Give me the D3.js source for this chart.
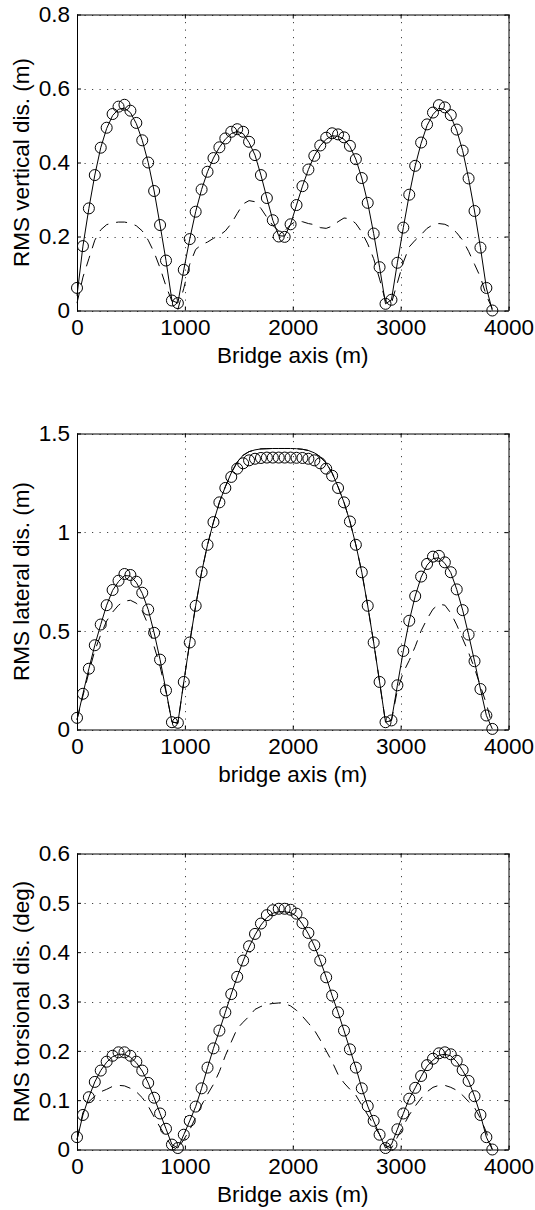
<!DOCTYPE html>
<html>
<head>
<meta charset="utf-8">
<script src="https://cdn.jsdelivr.net/npm/d3@7"></script>
<style>
body{margin:0;background:#fff;}
svg{display:block;font-family:Helvetica,Arial,"Liberation Sans",sans-serif;}
</style>
</head>
<body>
<svg id="chart" width="535" height="1210"></svg>
<script>
// stations along the bridge axis (m)
const stations=[0,55,110,165,220,275,330,385,440,495,550,605,660,715,770,825,880,935,990,1045,1100,1155,1210,1265,1320,1375,1430,1485,1540,1595,1650,1705,1760,1815,1870,1925,1980,2035,2090,2145,2200,2255,2310,2365,2420,2475,2530,2585,2640,2695,2750,2805,2860,2915,2970,3025,3080,3135,3190,3245,3300,3355,3410,3465,3520,3575,3630,3685,3740,3795,3850];
const xTicks=[0,1000,2000,3000,4000];

// vertical
const vertTicks=[0,0.2,0.4,0.6,0.8];
const vertCircle=[0.061,0.174,0.276,0.366,0.44,0.494,0.531,0.551,0.556,0.54,
  0.507,0.46,0.40,0.323,0.231,0.135,0.027,0.02,0.11,0.193,
  0.267,0.327,0.375,0.412,0.441,0.465,0.483,0.49,0.483,0.456,
  0.42,0.366,0.304,0.244,0.2,0.199,0.233,0.285,0.336,0.381,
  0.418,0.446,0.467,0.479,0.476,0.468,0.445,0.409,0.358,0.291,
  0.208,0.117,0.018,0.029,0.129,0.224,0.313,0.391,0.454,0.503,
  0.535,0.555,0.549,0.528,0.489,0.432,0.357,0.269,0.17,0.061,0.0];
const vertSolid=[0.04,0.174,0.276,0.366,0.44,0.492,0.527,0.544,0.547,0.535,
  0.505,0.46,0.40,0.323,0.231,0.135,0.027,0.02,0.11,0.193,
  0.267,0.327,0.375,0.412,0.441,0.463,0.478,0.484,0.478,0.454,
  0.42,0.366,0.304,0.244,0.202,0.201,0.233,0.285,0.336,0.381,
  0.418,0.445,0.463,0.472,0.471,0.463,0.443,0.409,0.358,0.291,
  0.208,0.117,0.018,0.029,0.129,0.224,0.313,0.391,0.452,0.5,
  0.53,0.547,0.543,0.524,0.487,0.432,0.357,0.269,0.17,0.061,0.0];
const vertDash=[0.02,0.09,0.14,0.19,0.218,0.232,0.237,0.239,0.239,0.236,
  0.229,0.215,0.19,0.157,0.115,0.066,0.025,0.003,0.06,0.125,
  0.165,0.178,0.185,0.195,0.203,0.215,0.235,0.262,0.288,0.297,
  0.294,0.276,0.252,0.23,0.215,0.215,0.232,0.242,0.24,0.235,
  0.232,0.224,0.222,0.228,0.24,0.25,0.248,0.235,0.212,0.18,
  0.14,0.085,0.025,0.02,0.075,0.13,0.172,0.19,0.205,0.222,
  0.232,0.235,0.233,0.225,0.21,0.19,0.16,0.125,0.09,0.04,0.005];

// lateral
const latTicks=[0,0.5,1,1.5];
const latCircle=[0.059,0.181,0.308,0.427,0.532,0.63,0.707,0.754,0.788,0.783,
  0.749,0.693,0.608,0.49,0.354,0.198,0.037,0.034,0.241,0.441,
  0.627,0.797,0.936,1.051,1.151,1.224,1.28,1.322,1.349,1.364,
  1.372,1.376,1.378,1.378,1.378,1.378,1.378,1.377,1.376,1.372,
  1.364,1.349,1.322,1.286,1.224,1.151,1.054,0.936,0.797,0.627,
  0.441,0.241,0.037,0.046,0.224,0.398,0.551,0.676,0.775,0.839,
  0.876,0.88,0.847,0.797,0.71,0.605,0.481,0.346,0.205,0.071,0.003];
const latSolid=[0.05,0.181,0.308,0.427,0.532,0.63,0.705,0.75,0.78,0.778,
  0.745,0.69,0.608,0.49,0.354,0.198,0.037,0.034,0.241,0.441,
  0.627,0.797,0.936,1.051,1.151,1.23,1.30,1.355,1.39,1.408,
  1.417,1.422,1.423,1.424,1.424,1.424,1.424,1.423,1.42,1.414,
  1.402,1.382,1.35,1.30,1.23,1.151,1.054,0.936,0.797,0.627,
  0.441,0.241,0.037,0.046,0.224,0.398,0.551,0.676,0.772,0.833,
  0.866,0.87,0.842,0.795,0.71,0.605,0.481,0.346,0.205,0.071,0.003];
const latDash=[0.05,0.17,0.29,0.40,0.48,0.55,0.595,0.63,0.65,0.655,
  0.64,0.6,0.53,0.42,0.32,0.19,0.04,0.03,0.241,0.441,
  0.627,0.797,0.936,1.051,1.151,1.23,1.30,1.355,1.39,1.408,
  1.417,1.422,1.423,1.424,1.424,1.424,1.424,1.423,1.42,1.414,
  1.402,1.382,1.35,1.30,1.23,1.151,1.054,0.936,0.797,0.627,
  0.441,0.241,0.037,0.046,0.2,0.29,0.35,0.42,0.50,0.56,
  0.61,0.635,0.63,0.59,0.53,0.46,0.39,0.31,0.22,0.13,0.02];

// torsional
const torsTicks=[0,0.1,0.2,0.3,0.4,0.5,0.6];
const torsCircle=[0.025,0.07,0.106,0.137,0.16,0.178,0.19,0.197,0.197,0.19,
  0.178,0.16,0.135,0.105,0.073,0.042,0.01,0.003,0.03,0.058,
  0.087,0.124,0.166,0.205,0.241,0.278,0.315,0.35,0.383,0.412,
  0.437,0.458,0.475,0.485,0.488,0.488,0.486,0.478,0.459,0.439,
  0.414,0.383,0.349,0.312,0.278,0.241,0.203,0.166,0.124,0.088,
  0.058,0.03,0.003,0.01,0.041,0.073,0.103,0.125,0.149,0.171,
  0.184,0.195,0.197,0.193,0.18,0.161,0.139,0.108,0.07,0.025,0.0];
const torsSolid=[0.02,0.07,0.106,0.137,0.16,0.177,0.188,0.193,0.193,0.187,
  0.176,0.159,0.135,0.105,0.073,0.042,0.01,0.003,0.03,0.058,
  0.087,0.124,0.166,0.205,0.241,0.278,0.315,0.35,0.382,0.41,
  0.435,0.455,0.47,0.479,0.482,0.482,0.48,0.473,0.457,0.437,
  0.413,0.383,0.349,0.312,0.278,0.241,0.203,0.166,0.124,0.088,
  0.058,0.03,0.003,0.01,0.041,0.073,0.103,0.125,0.148,0.169,
  0.181,0.191,0.193,0.19,0.178,0.16,0.139,0.108,0.07,0.025,0.0];
const torsDash=[0.02,0.075,0.097,0.108,0.117,0.122,0.128,0.13,0.129,0.124,
  0.117,0.105,0.088,0.066,0.045,0.025,0.005,0.002,0.02,0.04,
  0.065,0.09,0.112,0.132,0.158,0.19,0.218,0.245,0.258,0.27,
  0.284,0.29,0.294,0.296,0.297,0.296,0.291,0.282,0.27,0.256,
  0.242,0.222,0.2,0.178,0.152,0.135,0.122,0.11,0.09,0.07,
  0.05,0.03,0.008,0.003,0.025,0.048,0.07,0.088,0.104,0.117,
  0.126,0.13,0.13,0.126,0.12,0.11,0.097,0.085,0.063,0.035,0.0];

const panels=[
  {yLabel:'RMS vertical dis. (m)', xLabel:'Bridge axis (m)', yTicks:vertTicks, circles:vertCircle, solid:vertSolid, dashed:vertDash},
  {yLabel:'RMS lateral dis. (m)', xLabel:'bridge axis (m)', yTicks:latTicks, circles:latCircle, solid:latSolid, dashed:latDash},
  {yLabel:'RMS torsional dis. (deg)', xLabel:'Bridge axis (m)', yTicks:torsTicks, circles:torsCircle, solid:torsSolid, dashed:torsDash}
];

const left=77, right=508.5, plotH=296;
const tops=[14.5,433.5,853.5];
const fontSize=22.5;

const svg=d3.select('#chart');

panels.forEach((p,k)=>{
  const x=d3.scaleLinear().domain([0,4000]).range([left,right]);
  const y=d3.scaleLinear().domain([0,d3.max(p.yTicks)]).range([tops[k]+plotH,tops[k]]);
  const g=svg.append('g');

  //grille pointillée
  const grid=g.append('g').attr('stroke','#444').attr('stroke-width',1).attr('stroke-dasharray','1.2,6.3');
  grid.selectAll('line.v').data(xTicks).join('line').attr('class','v')
    .attr('x1',d=>Math.round(x(d))+0.5).attr('x2',d=>Math.round(x(d))+0.5)
    .attr('y1',y.range()[1]).attr('y2',y.range()[0]);
  grid.selectAll('line.h').data(p.yTicks).join('line').attr('class','h')
    .attr('y1',d=>Math.round(y(d))+0.5).attr('y2',d=>Math.round(y(d))+0.5)
    .attr('x1',left).attr('x2',right);

  //courbes
  const line=d3.line().x((d,i)=>x(stations[i])).y(d=>y(d));
  g.append('path').datum(p.dashed).attr('d',line)
    .attr('fill','none').attr('stroke','#000').attr('stroke-width',1).attr('stroke-dasharray','11,8');
  g.append('path').datum(p.solid).attr('d',line)
    .attr('fill','none').attr('stroke','#000').attr('stroke-width',1);
  g.append('g').selectAll('circle').data(p.circles).join('circle')
    .attr('cx',(d,i)=>x(stations[i])).attr('cy',d=>y(d)).attr('r',5.5)
    .attr('fill','none').attr('stroke','#000').attr('stroke-width',1);

  //axes
  const fmt=d=>String(d);
  const axes=[
    [d3.axisBottom(x).tickValues(xTicks).tickFormat(fmt).tickPadding(9), `translate(0,${y.range()[0]})`],
    [d3.axisTop(x).tickValues(xTicks).tickFormat(''), `translate(0,${y.range()[1]})`],
    [d3.axisLeft(y).tickValues(p.yTicks).tickFormat(fmt).tickPadding(7), `translate(${left},0)`],
    [d3.axisRight(y).tickValues(p.yTicks).tickFormat(''), `translate(${right},0)`]
  ];
  axes.forEach(([ax,tr])=>{
    const a=g.append('g').attr('transform',tr)
      .call(ax.tickSizeInner(-4).tickSizeOuter(0))
      .attr('font-size',null).attr('font-family',null);
    a.select('.domain').attr('stroke','#000').attr('stroke-width',1);
    a.selectAll('.tick line').attr('stroke','#000');
    a.selectAll('.tick text').attr('fill','#000').style('font-size',fontSize+'px');
  });

  //titres
  g.append('text')
    .attr('x',(left+right)/2).attr('y',y.range()[0]+52)
    .attr('text-anchor','middle').style('font-size',fontSize+'px')
    .text(p.xLabel);
  g.append('text')
    .attr('transform',`translate(29,${(y.range()[0]+y.range()[1])/2}) rotate(-90)`)
    .attr('text-anchor','middle').style('font-size',fontSize+'px')
    .text(p.yLabel);
});
</script>
</body>
</html>
